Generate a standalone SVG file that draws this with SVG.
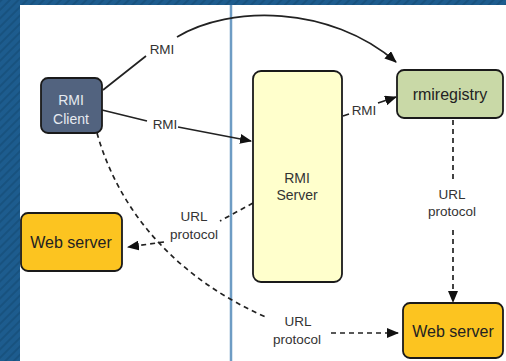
<svg xmlns="http://www.w3.org/2000/svg" width="506" height="361" viewBox="0 0 506 361">
<defs>
<pattern id="stripes" width="6" height="6" patternUnits="userSpaceOnUse" patternTransform="rotate(45)">
<rect width="6" height="6" fill="#1d5c8e"/>
<rect width="2" height="6" fill="#18527f"/>
</pattern>
<marker id="arr" viewBox="0 0 12 10" refX="11" refY="5" markerWidth="12" markerHeight="10" markerUnits="userSpaceOnUse" orient="auto">
<path d="M0,0 L12,5 L0,10 Z" fill="#111"/>
</marker>
<style>
.node{stroke:#1a1a1a;stroke-width:1.8}
.lbl{font-family:"Liberation Sans",Arial,sans-serif;fill:#333;text-anchor:middle}
.conn{fill:none;stroke:#222;stroke-width:1.7}
.dash{stroke-dasharray:5 4}
</style>
</defs>
<rect width="506" height="361" fill="url(#stripes)"/>
<rect x="20" y="5" width="486" height="356" fill="#ffffff"/>
<line x1="231" y1="5" x2="231" y2="361" stroke="#6e9cc4" stroke-width="2.5"/>

<g id="connectors">
<path class="conn" d="M103,90 L146,56 M177,37 C230,5 330,5 396,62" marker-end="url(#arr)"/>
<text class="lbl" x="162" y="54" font-size="13.5">RMI</text>
<path class="conn" d="M102,110 L147,121 M178,127 L251,141" marker-end="url(#arr)"/>
<text class="lbl" x="165" y="129" font-size="13.5">RMI</text>
<path class="conn" d="M343,116 L349,114 M378,103 L396,97" marker-end="url(#arr)"/>
<text class="lbl" x="364" y="115" font-size="13.5">RMI</text>
<path class="conn dash" d="M453,120 L453,180 M453,230 L453,302" marker-end="url(#arr)"/>
<text class="lbl" x="452" y="199" font-size="13.5">URL</text>
<text class="lbl" x="452" y="216" font-size="13.5">protocol</text>
<path class="conn dash" d="M253,203 L220,221 M164,242 L128,247" marker-end="url(#arr)"/>
<text class="lbl" x="194" y="221" font-size="13.5">URL</text>
<text class="lbl" x="194" y="239" font-size="13.5">protocol</text>
<path class="conn dash" d="M97,133 C120,215 180,280 268,318 M331,333 L398,333" marker-end="url(#arr)"/>
<text class="lbl" x="298" y="326" font-size="13.5">URL</text>
<text class="lbl" x="297" y="344" font-size="13.5">protocol</text>
</g>

<g id="rmi-client">
<rect class="node" x="41" y="78" width="61" height="55" rx="7" fill="#52637f"/>
<text class="lbl" x="71" y="105" font-size="14" style="fill:#e6eaf0">RMI</text>
<text class="lbl" x="71" y="124" font-size="14" style="fill:#e6eaf0">Client</text>
</g>
<g id="rmi-server">
<rect class="node" x="253" y="71" width="89" height="211" rx="8" fill="#ffffcc"/>
<text class="lbl" x="297" y="183" font-size="14">RMI</text>
<text class="lbl" x="297" y="200" font-size="14">Server</text>
</g>
<g id="rmiregistry">
<rect class="node" x="397" y="70" width="106" height="48" rx="7" fill="#c9d9a7"/>
<text class="lbl" x="450" y="100" font-size="16" style="fill:#222">rmiregistry</text>
</g>
<g id="web-server-left">
<rect class="node" x="21" y="213" width="101" height="58" rx="7" fill="#fcc420"/>
<text class="lbl" x="71" y="248" font-size="16" style="fill:#222">Web server</text>
</g>
<g id="web-server-right">
<rect class="node" x="403" y="303" width="100" height="55" rx="7" fill="#fcc420"/>
<text class="lbl" x="453" y="337" font-size="16" style="fill:#222">Web server</text>
</g>
</svg>
